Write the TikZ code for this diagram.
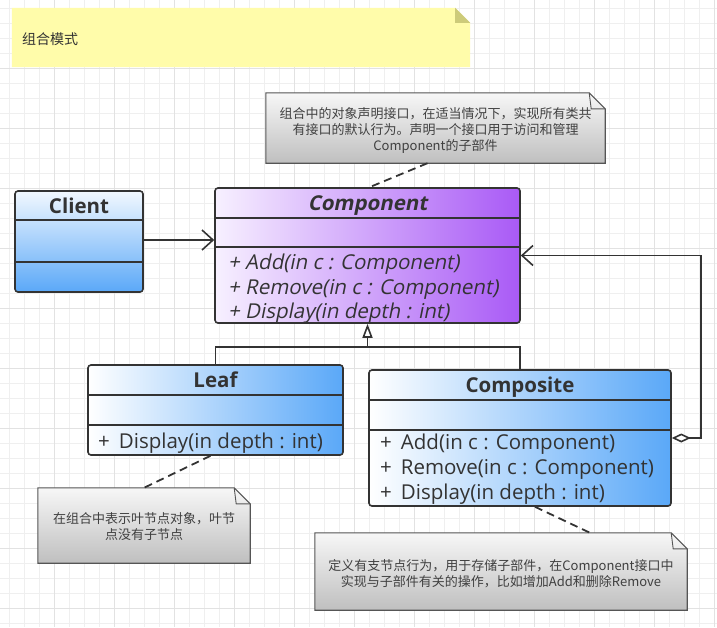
\documentclass[tikz,border=0pt]{standalone}
\usepackage{fontspec}
\setmainfont{Open Sans}
\newfontfamily\slantfont[FakeSlant=0.2]{Open Sans}
\newfontfamily\cjk{Noto Sans CJK SC}
\usetikzlibrary{arrows.meta,calc}
\definecolor{ink}{HTML}{333333}
\definecolor{notetxt}{HTML}{404040}
\definecolor{gridminor}{HTML}{EFEFEF}
\definecolor{gridmajor}{HTML}{E2E2E2}
\definecolor{blueR}{HTML}{5AA8F8}
\definecolor{purpleL}{HTML}{F7F0FF}
\definecolor{purpleR}{HTML}{A95AF6}
\definecolor{memoY}{HTML}{FFFCAA}
\definecolor{memoF}{HTML}{CDCB7A}
\definecolor{noteT}{HTML}{F7F7F7}
\definecolor{noteB}{HTML}{BFBFBF}
\definecolor{noteline}{HTML}{555555}
\pgfdeclarelayer{background}
\pgfsetlayers{background,main}
\tikzset{
  classbox/.style={draw=ink, line width=1.6pt, rounded corners=3pt, inner sep=0pt},
  hbox/.style={classbox, left color=white, right color=blueR},
  vbox/.style={classbox, top color=white!92!blueR, bottom color=blueR},
  pbox/.style={classbox, left color=purpleL, right color=purpleR},
  sepline/.style={draw=ink, line width=1.6pt},
  ctitle/.style={text=ink, font=\bfseries\fontsize{20.5}{24}\selectfont, inner sep=0pt},
  meth/.style={text=ink, font=\fontsize{20.5}{24}\selectfont, inner sep=0pt, anchor=west},
  imeth/.style={meth, font=\slantfont\fontsize{20.5}{24}\selectfont},
  notetext/.style={text=notetxt, font=\cjk\fontsize{13}{16}\selectfont, align=center, inner sep=0pt},
  noteshape/.style={draw=noteline, line width=1.1pt, top color=noteT, bottom color=noteB},
  conn/.style={draw=ink, line width=1.6pt},
  dashconn/.style={draw=ink, line width=1.8pt, dash pattern=on 8pt off 5pt},
}
\begin{document}
\begin{tikzpicture}[x=1pt,y=-1pt]
\useasboundingbox (0,0) rectangle (717,627);
\begin{pgfonlayer}{background}
\fill[white] (0,0) rectangle (717,627);
\foreach \x in {9.5,24.5,...,717} \draw[gridminor, line width=0.8pt] (\x,0) -- (\x,627);
\foreach \y in {8,23,...,627} \draw[gridminor, line width=0.8pt] (0,\y) -- (717,\y);
\foreach \x in {54,114,...,717} \draw[gridmajor, line width=0.8pt] (\x,0) -- (\x,627);
\foreach \y in {68,128,...,627} \draw[gridmajor, line width=0.8pt] (0,\y) -- (717,\y);
\end{pgfonlayer}

% yellow memo
\node[minimum width=458pt, minimum height=59pt, inner sep=0pt] (memo) at (241,37.5) {};
\begin{pgfonlayer}{background}
\fill[memoY] (memo.north west) -- ($(memo.north east)+(-15,0)$) -- ($(memo.north east)+(0,15)$) -- (memo.south east) -- (memo.south west) -- cycle;
\fill[memoF] ($(memo.north east)+(-15,0)$) -- ($(memo.north east)+(0,15)$) -- ($(memo.north east)+(-15,15)$) -- cycle;
\end{pgfonlayer}
\node[text=ink, font=\cjk\fontsize{14}{16}\selectfont, anchor=west, inner sep=0pt] (memoT) at (22,39) {组合模式};

% notes
\node[notetext, minimum width=339pt, minimum height=70pt] (note1) at (435.5,128) {};
\node[notetext] (note1T) at (435.5,130) {组合中的对象声明接口，在适当情况下，实现所有类共\\有接口的默认行为。声明一个接口用于访问和管理\\Component的子部件};
\node[notetext, minimum width=212pt, minimum height=75pt] (note2) at (144,525.5) {};
\node[notetext] (note2T) at (144,527) {在组合中表示叶节点对象，叶节\\点没有子节点};
\node[notetext, minimum width=372pt, minimum height=77pt] (note3) at (501,571.5) {};
\node[notetext] (note3T) at (501,573.5) {定义有支节点行为，用于存储子部件，在Component接口中\\实现与子部件有关的操作，比如增加Add和删除Remove};
\begin{pgfonlayer}{background}
\foreach \n in {note1,note2,note3}{
  \path[noteshape] (\n.north west) -- ($(\n.north east)+(-16,0)$) -- ($(\n.north east)+(0,16)$) -- (\n.south east) -- (\n.south west) -- cycle;
  \draw[noteline, line width=0.9pt] ($(\n.north east)+(-16,0)$) -- ($(\n.north east)+(-14,16)$) -- ($(\n.north east)+(0,16)$);
}
\end{pgfonlayer}

% classes
\node[vbox, minimum width=128pt, minimum height=101pt] (client) at (79,241.5) {};
\draw[sepline] (client.west |- 0,220) -- (client.east |- 0,220);
\draw[sepline] (client.west |- 0,262) -- (client.east |- 0,262);
\node[ctitle] (clientT) at (79,206) {Client};

\node[pbox, minimum width=305pt, minimum height=135pt] (component) at (367.5,255.5) {};
\draw[sepline] (component.west |- 0,218) -- (component.east |- 0,218);
\draw[sepline] (component.west |- 0,247) -- (component.east |- 0,247);
\node[ctitle, font=\slantfont\bfseries\fontsize{20.5}{24}\selectfont] (componentT) at (367.5,205.5) {Component};
\node[imeth] (compM1) at (228,264.5) {+ Add(in c : Component)};
\node[imeth] (compM2) at (228,289) {+ Remove(in c : Component)};
\node[imeth] (compM3) at (228,313.5) {+ Display(in depth : int)};

\node[hbox, minimum width=255pt, minimum height=90pt] (leaf) at (215.5,410) {};
\draw[sepline] (leaf.west |- 0,395) -- (leaf.east |- 0,395);
\draw[sepline] (leaf.west |- 0,425) -- (leaf.east |- 0,425);
\node[ctitle] (leafT) at (215.5,380) {Leaf};
\node[meth] (leafM1) at (98,443) {+\hspace{9pt}Display(in depth : int)};

\node[hbox, minimum width=302pt, minimum height=136pt] (composite) at (520,438) {};
\draw[sepline] (composite.west |- 0,400) -- (composite.east |- 0,400);
\draw[sepline] (composite.west |- 0,430) -- (composite.east |- 0,430);
\node[ctitle] (compositeT) at (520,387) {Composite};
\node[meth] (cpM1) at (380,444.5) {+\hspace{9pt}Add(in c : Component)};
\node[meth] (cpM2) at (380,469.5) {+\hspace{9pt}Remove(in c : Component)};
\node[meth] (cpM3) at (380,494.5) {+\hspace{9pt}Display(in depth : int)};

% connectors
\draw[conn, -{Straight Barb[length=11pt,width=20pt,line width=1.6pt]}] (client.east |- 0,240) -- (component.west |- 0,240);
\coordinate (gj) at (367.5,347);
\draw[conn, line join=miter] (leaf.north) |- (gj) -| (composite.north);
\draw[conn, -{Triangle[open,length=14pt,width=10pt,fill=white]}] (gj) -- (component.south);
\coordinate (aggx) at (701,0);
\draw[conn, line join=miter, {Diamond[open,length=19pt,width=9pt,fill=white]}-{Straight Barb[length=11pt,width=20pt,line width=1.6pt]}] (composite.east) -- (composite.east -| aggx) -- (component.east -| aggx) -- (component.east);
\draw[dashconn] ($(note1.south)+(-8,0)$) -- ($(component.north)+(2,0)$);
\draw[dashconn] ($(leaf.south)+(-5,0)$) -- (note2.north);
\draw[dashconn] ($(composite.south)+(15,0)$) -- ($(note3.north)+(89,0)$);
\end{tikzpicture}
\end{document}
